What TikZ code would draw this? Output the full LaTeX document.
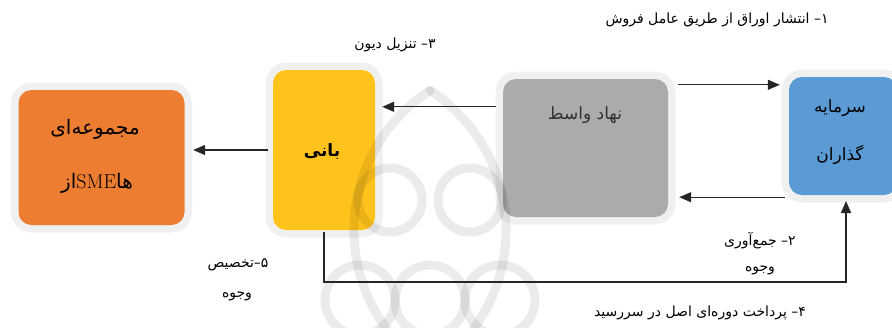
\documentclass[tikz,border=0pt]{standalone}
\usepackage{fontspec}
\usetikzlibrary{arrows.meta}
\TeXXeTstate=1
\newfontfamily\arabicfont[Script=Arabic]{DejaVu Sans}
\definecolor{orng}{HTML}{ED7D31}
\definecolor{yllw}{HTML}{FFC31C}
\definecolor{gryb}{HTML}{ABABAB}
\definecolor{blu}{HTML}{5B9BD5}
\definecolor{halo}{HTML}{F0F0F0}
\definecolor{ink}{HTML}{262626}
\tikzset{
  boxx/.style={rounded corners=13pt, inner sep=0pt, preaction={draw=halo, line width=15pt}},
  arr/.style={draw=ink, line width=1.3pt, -{Triangle[length=12pt,width=10pt]}},
  lbl/.style={font=\arabicfont\fontsize{14}{16}\selectfont, text=black, inner sep=1pt},
  boxtxt/.style={font=\arabicfont\fontsize{17}{19}\selectfont, text=black, inner sep=1pt},
  wmark/.style={draw=black, line width=9pt, opacity=0.08, line cap=round}
}
\begin{document}
\begin{tikzpicture}[x=1pt,y=-1pt]
\useasboundingbox (0,0) rectangle (892,327);
% boxes
\node[boxx, fill=orng, minimum width=166pt, minimum height=135pt] (org) at (101.5,157.5) {};
\node[boxx, fill=yllw, minimum width=102pt, minimum height=160pt] (bani) at (324,150) {};
\node[boxx, fill=gryb, minimum width=165pt, minimum height=138pt] (nahad) at (585.5,148) {};
\node[boxx, fill=blu, minimum width=108pt, minimum height=118pt] (sar) at (843,136) {};
% faint watermark
\begin{scope}
\clip (0,0) rectangle (892,327);
\draw[wmark] (430,90.5) arc[start angle=237.2, end angle=140, radius=166];
\draw[wmark] (430,90.5) arc[start angle=-57.2, end angle=40, radius=166];
\draw[wmark] (390,200) circle[radius=32];
\draw[wmark] (470,200) circle[radius=32];
\draw[wmark] (360,300) circle[radius=35];
\draw[wmark] (430,300) circle[radius=35];
\draw[wmark] (500,300) circle[radius=35];
\end{scope}
% box texts
\node[boxtxt, font=\arabicfont\fontsize{20}{22}\selectfont] (t1) at (95,129) {مجموعه^^^^200cای};
\node[boxtxt, font=\fontsize{20}{22}\selectfont] (t2) at (97,183) {{\arabicfont از}SME{\arabicfont ها}};
\node[boxtxt, font=\arabicfont\bfseries\fontsize{17}{19}\selectfont] (t3) at (322,152) {بانی};
\node[boxtxt, text=black!80] (t4) at (585,115) {\beginR نهاد واسط\endR};
\node[boxtxt] (t5) at (840,108) {سرمایه};
\node[boxtxt] (t6) at (840,155) {گذاران};
% connectors
\draw[arr] ([xshift=10pt,yshift=-6pt]nahad.north east) -- ([xshift=-9pt,yshift=-8pt]sar.north west);
\draw[arr] ([xshift=-4pt,yshift=-2pt]sar.south west) -- ([xshift=11pt,yshift=20pt]nahad.south east);
\draw[arr] ([xshift=-7pt,yshift=-28pt]nahad.north west) -- ([xshift=7pt,yshift=-37pt]bani.north east);
\draw[arr] ([xshift=-5pt]bani.west) -- ([xshift=8.5pt,yshift=7.5pt]org.east);
\coordinate (c1) at (bani.south |- 0,282);
\coordinate (c2) at (846,282);
\draw[arr] ([yshift=-2pt]bani.south) -- (c1) -- (c2) -- (c2 |- 0,201);
% labels
\node[lbl] (l1) at (717,20) {\beginR ۱– انتشار اوراق از طریق عامل فروش\endR};
\node[lbl] (l3) at (395,45) {\beginR ۳– تنزیل دیون\endR};
\node[lbl] (l2a) at (760,241) {\beginR ۲– جمع^^^^200cآوری\endR};
\node[lbl] (l2b) at (760,270) {\beginR وجوه\endR};
\node[lbl] (l5a) at (238,265) {\beginR ۵–تخصیص\endR};
\node[lbl] (l5b) at (237,296) {\beginR وجوه\endR};
\node[lbl] (l4) at (700,313) {\beginR ۴– پرداخت دوره^^^^200cای اصل در سررسید\endR};
\end{tikzpicture}
\end{document}
